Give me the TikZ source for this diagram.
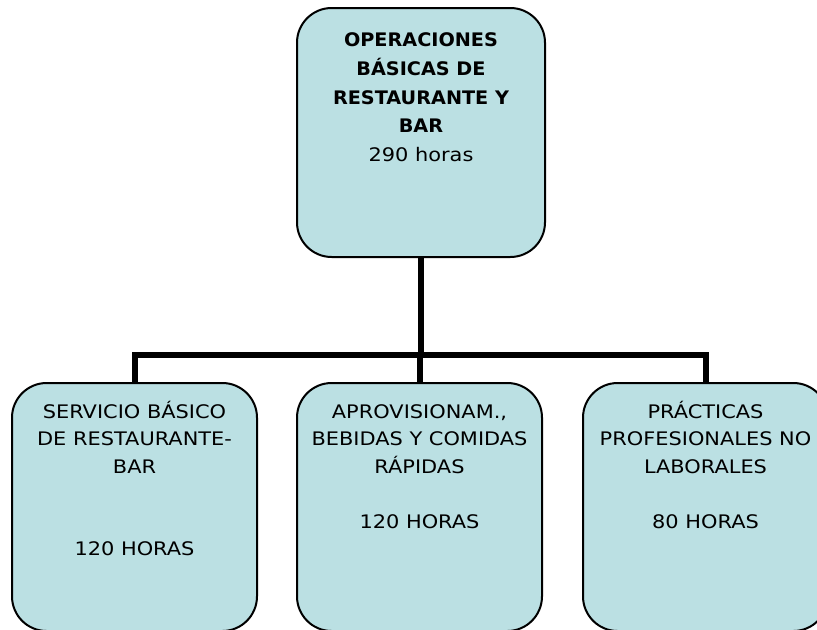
\documentclass[tikz,border=0pt]{standalone}
\usepackage{fontspec}
\setmainfont{DejaVu Sans}[FakeStretch=1.12]
\newfontfamily\hdfont{DejaVu Sans Bold}[FakeStretch=1.03]
\definecolor{boxfill}{RGB}{187,224,227}
\tikzset{
  box/.style={draw=black, line width=1.5pt, fill=boxfill, rounded corners=26pt, inner sep=0pt, minimum height=186pt},
  conn/.style={draw=black, line width=4.5pt, line join=miter},
  txt/.style={inner sep=0pt, anchor=base, font=\fontsize{14}{20.6}\selectfont}
}
\begin{document}
\begin{tikzpicture}[x=0.75pt,y=-0.75pt]
\useasboundingbox (0,0) rectangle (817,629);
\clip (0,0) rectangle (817,629);
\node[box, minimum width=186pt, minimum height=186.75pt] (top) at (421,132.5) {};
\node[box, minimum width=183.75pt] (left) at (134.5,507) {};
\node[box, minimum width=183.75pt] (mid) at (419.5,507) {};
\node[box, minimum width=183.75pt] (right) at (705.5,507) {};
\coordinate (j) at (421,355);
\draw[conn] (top.south) -- (j);
\draw[conn] (left.north) |- (j) -| (right.north);
\draw[conn] (j -| mid.north) -- (mid.north);
\node[txt, font=\fontsize{14}{21.6}\selectfont] (ttop) at (421,46.5) {\begin{tabular}[t]{@{}c@{}}{\hdfont OPERACIONES}\\{\hdfont BÁSICAS DE}\\{\hdfont RESTAURANTE Y}\\{\hdfont BAR}\\290 horas\end{tabular}};
\node[txt] (tleft) at (134.5,418.5) {\begin{tabular}[t]{@{}c@{}}SERVICIO BÁSICO\\DE RESTAURANTE-\\BAR\\ \\ \\120 HORAS\end{tabular}};
\node[txt] (tmid) at (419.5,418.5) {\begin{tabular}[t]{@{}c@{}}APROVISIONAM.,\\BEBIDAS Y COMIDAS\\RÁPIDAS\\ \\120 HORAS\end{tabular}};
\node[txt] (tright) at (705.5,418.5) {\begin{tabular}[t]{@{}c@{}}PRÁCTICAS\\PROFESIONALES NO\\LABORALES\\ \\80 HORAS\end{tabular}};
\end{tikzpicture}
\end{document}
